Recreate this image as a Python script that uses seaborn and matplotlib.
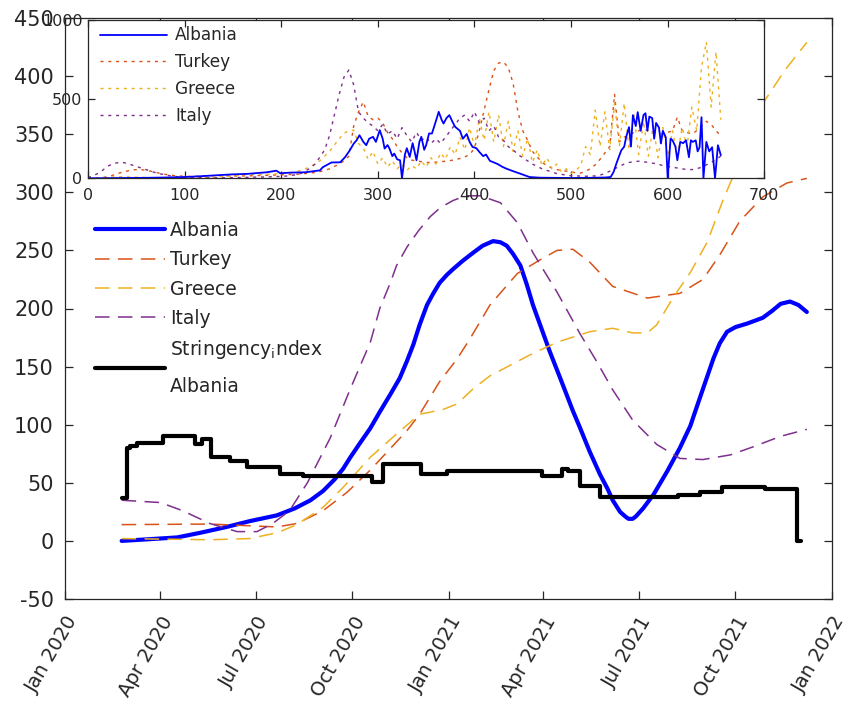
import numpy as np
import pandas as pd
import matplotlib
matplotlib.use("Agg")
import matplotlib.pyplot as plt
import matplotlib.dates as mdates
import seaborn as sns

# ---------------- main chart data (days since 1 Jan 2020) ----------------
alb_days = [54, 81, 107, 129, 154, 176, 202, 219, 234, 246,
            257, 265, 272, 281, 291, 300, 310, 319, 326, 332,
            338, 345, 351, 357, 364, 370, 379, 389, 398, 408,
            415, 421, 427, 434, 440, 446, 454, 462, 472, 484,
            491, 500, 510, 517, 522, 529, 534, 537, 541, 544,
            551, 561, 574, 586, 596, 602, 610, 618, 624, 631,
            639, 650, 665, 674, 682, 691, 699, 707]
alb_vals = [0, 1.5, 3, 7, 12, 17, 22, 28, 35, 43,
            53, 62, 72, 84, 97, 111, 126, 140, 155, 169,
            186, 203, 213, 222, 229, 234, 241, 248, 254, 258,
            257, 254, 247, 237, 221, 203, 183, 163, 140, 112,
            97, 77, 57, 45, 35, 25, 21, 19, 19, 21,
            28, 40, 60, 80, 99, 115, 136, 157, 170, 180,
            184, 187, 192, 198, 204, 206, 203, 197]

tur_days = [54, 138, 202, 221, 246, 269, 291, 326, 338, 357, 374, 386, 405, 431, 453, 469, 484,
            500, 522, 555, 586, 608, 624, 643, 665, 688, 707]
tur_vals = [14, 14.5, 12, 15, 26, 42, 61, 95, 109, 137, 157, 174, 203, 230, 242, 250, 251,
            240, 219, 209, 213, 225, 246, 275, 296, 308, 312]

gre_days = [54, 138, 176, 202, 221, 246, 265, 291, 316, 338, 360, 374, 389, 405, 443, 469, 500,
            522, 541, 555, 564, 580, 596, 612, 627, 643, 667, 686, 707]
gre_vals = [2, 1, 2, 7, 14, 29, 46, 72, 92, 109, 113, 118, 131, 142, 160, 171, 180,
            183, 179, 179, 186, 210, 231, 257, 293, 327, 379, 405, 429]

ita_days = [54, 91, 112, 138, 164, 183, 198, 214, 231, 253, 272, 291, 300, 310, 316, 326, 337,
            348, 358, 370, 382, 396, 415, 431, 446, 469, 491, 507, 522, 541, 564, 586, 608,
            634, 656, 682, 707]
ita_vals = [35, 33, 26, 15, 8, 8, 15, 26, 50, 89, 131, 171, 200, 222, 237, 253, 267,
            279, 287, 293, 297, 297, 291, 274, 248, 214, 178, 154, 130, 104, 83, 71, 70,
            74, 81, 90, 96]

str_days = [54, 59, 62, 69, 93, 124, 131, 139, 157, 173, 205, 227, 293, 303, 339, 364, 455,
            474, 479, 491, 510, 584, 605, 626, 667, 696, 698, 701]
str_vals = [37, 80, 82, 84, 90.5, 83.5, 87.5, 72, 69, 64, 58, 55.5, 50.5, 66.5, 57.5, 60.5, 55.5,
            62, 60.5, 47, 38, 39.5, 42, 46, 45, 45, 0, 0]

main_labels = ["Albania", "Turkey", "Greece", "Italy", "Stringency$_i$ndex\nAlbania"]

# ---------------- inset data (day index) ----------------
ins_alb_days = [0, 20, 40, 60, 80, 100, 116, 130, 150, 165,
                185, 195, 199, 210, 225, 240, 243, 252, 261, 266,
                271, 275, 278, 281, 285, 288, 291, 295, 298, 302,
                305, 307, 310, 312, 315, 317, 320, 323, 325, 328,
                330, 333, 336, 338, 340, 343, 345, 348, 350, 353,
                356, 360, 363, 366, 368, 371, 374, 377, 380, 385,
                388, 392, 395, 398, 402, 405, 409, 412, 416, 419,
                424, 429, 433, 440, 447, 457, 467, 480, 500, 520,
                535, 541, 544, 547, 552, 555, 557, 560, 562, 564,
                567, 569, 572, 575, 577, 579, 581, 584, 586, 588,
                591, 593, 595, 598, 600, 603, 605, 608, 610, 613,
                616, 619, 622, 624, 626, 629, 631, 633, 635, 637,
                640, 643, 646, 649, 652, 655]
ins_alb_vals = [0, 1, 2, 3, 5, 8, 13, 18, 25, 28,
                38, 48, 32, 36, 38, 50, 70, 100, 101, 133,
                177, 219, 240, 272, 230, 209, 250, 262, 230, 304,
                250, 188, 210, 188, 140, 156, 120, 114, 0, 150,
                190, 135, 222, 170, 114, 230, 262, 180, 210, 283,
                283, 360, 420, 370, 346, 380, 399, 360, 325, 300,
                250, 280, 230, 198, 190, 167, 140, 150, 110, 103,
                90, 72, 61, 45, 30, 8, 4, 3, 2, 3,
                5, 8, 40, 95, 177, 200, 260, 323, 200, 399,
                330, 418, 300, 400, 411, 300, 390, 380, 250, 350,
                320, 220, 300, 260, 0, 250, 240, 200, 114, 230,
                222, 240, 133, 240, 230, 240, 170, 196, 386, 0,
                230, 170, 196, 0, 209, 146]

ins_days = list(range(0, 660, 5))
ins_tur = [0, 0, 2, 5, 10, 18, 28, 38, 45, 52,
           55, 55, 50, 45, 38, 30, 25, 20, 17, 15,
           13, 12, 12, 13, 15, 16, 17, 17, 16, 16,
           15, 15, 15, 15, 16, 17, 18, 19, 20, 21,
           22, 23, 24, 25, 27, 30, 33, 37, 42, 50,
           60, 75, 90, 110, 140, 330, 420, 483, 390, 370,
           380, 350, 290, 250, 200, 160, 130, 115, 110, 105,
           100, 100, 102, 105, 108, 112, 118, 125, 135, 150,
           190, 300, 430, 560, 680, 728, 735, 700, 600, 420,
           300, 240, 170, 135, 100, 80, 65, 55, 50, 45,
           40, 35, 33, 45, 60, 85, 120, 160, 200, 530,
           230, 260, 270, 290, 300, 310, 300, 290, 285, 280,
           290, 300, 386, 300, 290, 280, 300, 330, 360, 340,
           300, 270]
ins_gre = [0, 1, 2, 4, 6, 8, 9, 10, 9, 8,
           7, 6, 5, 4, 3, 2, 2, 2, 2, 2,
           2, 3, 3, 3, 4, 5, 6, 8, 10, 12,
           15, 18, 22, 24, 26, 25, 24, 25, 27, 28,
           30, 32, 35, 40, 50, 60, 75, 90, 110, 140,
           170, 210, 250, 285, 300, 304, 220, 190, 120, 170,
           90, 130, 70, 110, 60, 90, 50, 80, 60, 110,
           70, 130, 90, 160, 120, 200, 150, 260, 180, 320,
           200, 380, 240, 420, 230, 400, 200, 360, 170, 300,
           140, 250, 100, 180, 80, 130, 60, 90, 40, 60,
           30, 50, 80, 200, 150, 430, 200, 420, 180, 475,
           200, 475, 180, 400, 150, 360, 140, 330, 130, 320,
           140, 300, 150, 320, 200, 450, 300, 700, 861, 450,
           800, 370]
ins_ita = [5, 15, 30, 50, 75, 90, 98, 101, 95, 85,
           75, 65, 55, 45, 35, 28, 22, 16, 12, 9,
           7, 5, 4, 4, 3, 3, 3, 3, 3, 3,
           4, 5, 5, 6, 7, 8, 8, 9, 10, 11,
           12, 14, 18, 22, 30, 45, 65, 90, 133, 180,
           270, 400, 530, 640, 684, 590, 420, 380, 350, 330,
           300, 340, 280, 300, 250, 320, 270, 230, 290, 240,
           260, 220, 250, 220, 260, 300, 340, 380, 400, 360,
           420, 350, 380, 300, 330, 260, 240, 200, 180, 150,
           130, 110, 90, 75, 60, 50, 40, 30, 25, 20,
           16, 15, 14, 13, 14, 15, 20, 30, 45, 60,
           75, 90, 100, 105, 108, 105, 100, 95, 90, 80,
           75, 70, 65, 60, 55, 55, 60, 70, 85, 100,
           120, 140]
inset_labels = ["Albania", "Turkey", "Greece", "Italy"]

C_ALB, C_TUR, C_GRE, C_ITA = "#0000FF", "#D95319", "#EDB120", "#7E2F8E"
TXT = "#262626"

sns.set_style("ticks")
plt.rcParams["font.family"] = ["DejaVu Sans"]
plt.rcParams["mathtext.default"] = "regular"
plt.rcParams["axes.unicode_minus"] = False
plt.rcParams["axes.edgecolor"] = TXT
plt.rcParams["axes.linewidth"] = 0.9

base = pd.Timestamp("2020-01-01")
def to_dates(days):
    return base + pd.to_timedelta(days, unit="D")

W, H = 851, 705
fig = plt.figure(figsize=(W / 100, H / 100), dpi=100)
ax = fig.add_axes([65 / W, 1 - 599 / H, 767 / W, 581 / H])

dash = (9.5, 5.5)
sns.lineplot(x=to_dates(alb_days), y=alb_vals, ax=ax, color=C_ALB, linewidth=3.0, estimator=None)
for d, v, c in [(tur_days, tur_vals, C_TUR), (gre_days, gre_vals, C_GRE), (ita_days, ita_vals, C_ITA)]:
    sns.lineplot(x=to_dates(d), y=v, ax=ax, color=c, linewidth=1.1, estimator=None)
    ax.get_lines()[-1].set_dashes(dash)
sns.lineplot(x=to_dates(str_days), y=str_vals, ax=ax, color="black", linewidth=3.0,
             estimator=None, drawstyle="steps-post")

ax.set_xlim(pd.Timestamp("2020-01-01"), pd.Timestamp("2022-01-01"))
ax.set_ylim(-50, 450)
ax.set_yticks(range(-50, 451, 50))
ax.xaxis.set_major_locator(mdates.MonthLocator(bymonth=[1, 4, 7, 10]))
ax.xaxis.set_major_formatter(mdates.DateFormatter("%b %Y"))
ax.set_xlabel("")
ax.set_ylabel("")
ax.tick_params(direction="in", length=6, width=0.9, top=True, right=True,
               labelsize=15, colors=TXT)
ax.tick_params(axis="y", pad=8)
ax.tick_params(axis="x", pad=10, labelsize=14)
for lab in ax.get_xticklabels():
    lab.set_rotation(60)
    lab.set_ha("right")
    lab.set_va("top")
    lab.set_rotation_mode("anchor")

lines = ax.get_lines()[:5]
leg = ax.legend(lines, main_labels, loc="upper left",
                bbox_to_anchor=(95 / W, 1 - 221 / H), bbox_transform=fig.transFigure,
                frameon=False, fontsize=13.5, handlelength=3.73, handletextpad=0.27,
                labelspacing=0.55, borderpad=0, borderaxespad=0)
for t in leg.get_texts():
    t.set_color(TXT)
leg.get_texts()[4].set_linespacing(2.05)

# ---------------- inset ----------------
axi = fig.add_axes([88 / W, 1 - 178.3 / H, 676.3 / W, 158.3 / H])
axi.set_facecolor("white")
dot = (2.2, 3.4)
for v, c in [(ins_tur, C_TUR), (ins_gre, C_GRE), (ins_ita, C_ITA)]:
    sns.lineplot(x=ins_days, y=v, ax=axi, color=c, linewidth=1.0, estimator=None)
    axi.get_lines()[-1].set_dashes(dot)
sns.lineplot(x=ins_alb_days, y=ins_alb_vals, ax=axi, color=C_ALB, linewidth=1.3, estimator=None)
il = axi.get_lines()
axi.set_xlim(0, 700)
axi.set_ylim(0, 1000)
axi.set_xticks(range(0, 701, 100))
axi.set_yticks([0, 500, 1000])
axi.set_xlabel("")
axi.set_ylabel("")
axi.tick_params(direction="in", length=5, width=0.9, top=True, right=True,
                labelsize=11.5, colors=TXT)
axi.tick_params(axis="y", pad=4)
axi.tick_params(axis="x", pad=7)
ileg = axi.legend([il[3], il[0], il[1], il[2]], inset_labels, loc="upper left",
                  bbox_to_anchor=(100 / W, 1 - 26.5 / H), bbox_transform=fig.transFigure,
                  frameon=False, fontsize=12.2, handlelength=3.96, handletextpad=0.47,
                  labelspacing=0.52, borderpad=0, borderaxespad=0)
for t in ileg.get_texts():
    t.set_color(TXT)

fig.savefig("out.png", dpi=100)
